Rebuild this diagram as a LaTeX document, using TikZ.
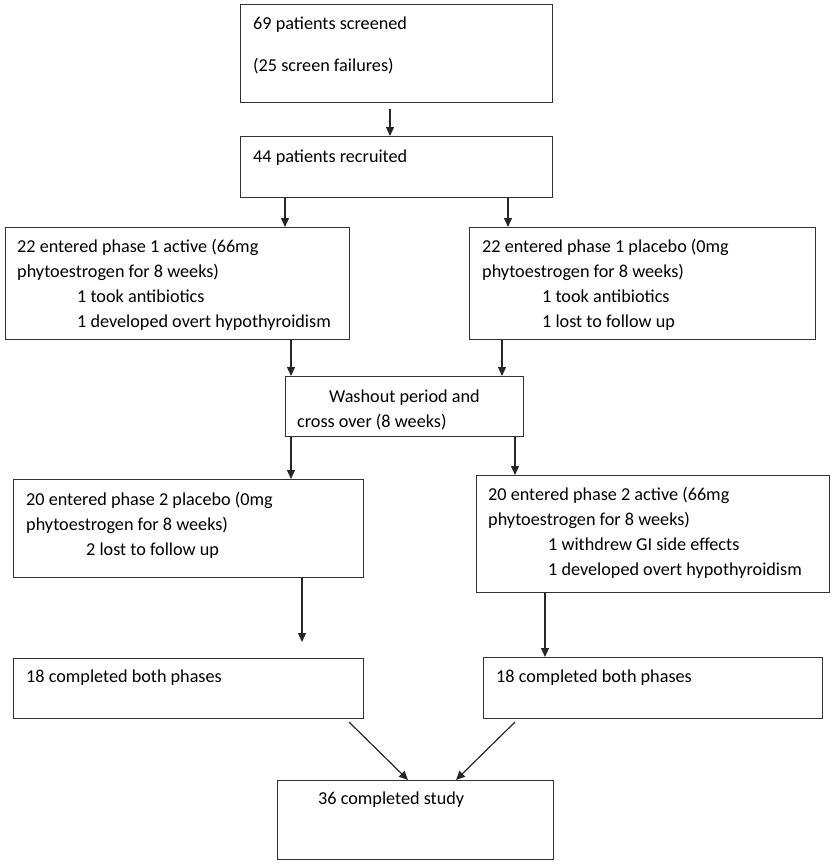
\documentclass[tikz,border=0pt]{standalone}
\usepackage{fontspec}
\setmainfont{Carlito}
\usetikzlibrary{arrows.meta}
\newlength{\du}
\setlength{\du}{1pt}
\newcommand{\ind}{\hspace*{60\du}}

\begin{document}
\begin{tikzpicture}[
  box/.style={draw=black!80, line width=1.2\du, anchor=north west, inner sep=0pt},
  txt/.style={anchor=base west, inner sep=0pt, align=left,
    font=\fontsize{18.2}{25}\selectfont},
  arr/.style={draw=black!85, line width=1.2\du, -{Triangle[length=9pt,width=8pt]}}
]
\pgftransformxscale{1.000000}
\pgftransformyscale{-1.000000}
\useasboundingbox (0\du,0\du) rectangle (835\du,865\du);
% boxes
\node[box, minimum width=312\du, minimum height=98\du] (screen) at (240\du,4\du) {};
\node[box, minimum width=312\du, minimum height=61\du] (recruit) at (240\du,136\du) {};
\node[box, minimum width=344\du, minimum height=112\du] (activeA) at (5\du,227\du) {};
\node[box, minimum width=346\du, minimum height=112\du] (placeboA) at (469\du,227\du) {};
\node[box, minimum width=238\du, minimum height=60\du] (washout) at (285\du,376\du) {};
\node[box, minimum width=350\du, minimum height=98\du] (placeboB) at (13\du,479\du) {};
\node[box, minimum width=353\du, minimum height=117\du] (activeB) at (476\du,475\du) {};
\node[box, minimum width=350\du, minimum height=60\du] (doneL) at (13\du,658\du) {};
\node[box, minimum width=339\du, minimum height=61\du] (doneR) at (483\du,657\du) {};
\node[box, minimum width=276\du, minimum height=79\du] (study) at (277\du,780\du) {};
% texts (anchored at the baseline of their last line)
\node[txt] (screen-t) at (253\du,71\du) {69 patients screened\\[17\du](25 screen failures)};
\node[txt] (recruit-t) at (253\du,162\du) {44 patients recruited};
\node[txt] (activeA-t) at (17\du,327\du) {22 entered phase 1 active (66mg\\phytoestrogen for 8 weeks)\\
  \ind1 took antibiotics\\\ind1 developed overt hypothyroidism};
\node[txt] (placeboA-t) at (482\du,327\du) {22 entered phase 1 placebo (0mg\\phytoestrogen for 8 weeks)\\
  \ind1 took antibiotics\\\ind1 lost to follow up};
\node[txt] (washout-t) at (297\du,427\du) {\hspace*{32\du}Washout period and\\cross over (8 weeks)};
\node[txt] (placeboB-t) at (26\du,555\du) {20 entered phase 2 placebo (0mg\\phytoestrogen for 8 weeks)\\
  \ind2 lost to follow up};
\node[txt] (activeB-t) at (488\du,575\du) {20 entered phase 2 active (66mg\\phytoestrogen for 8 weeks)\\
  \ind1 withdrew GI side effects\\\ind1 developed overt hypothyroidism};
\node[txt] (doneL-t) at (26\du,682\du) {18 completed both phases};
\node[txt] (doneR-t) at (496\du,682\du) {18 completed both phases};
\node[txt] (study-t) at (318\du,804\du) {36 completed study};
% arrow columns
\coordinate (c390) at (390\du,0\du);
\coordinate (c285) at (285\du,0\du);
\coordinate (c508) at (508\du,0\du);
\coordinate (c291) at (291\du,0\du);
\coordinate (c502) at (502\du,0\du);
\coordinate (c515) at (515\du,0\du);
\coordinate (c302) at (302\du,0\du);
\coordinate (c545) at (545\du,0\du);
\coordinate (c408) at (408\du,0\du);
\coordinate (c456) at (456\du,0\du);
% connectors
\draw[arr, shorten <=6\du] (screen.south -| c390) -- (recruit.north -| c390);
\draw[arr] (recruit.south -| c285) -- (activeA.north -| c285);
\draw[arr] (recruit.south -| c508) -- (placeboA.north -| c508);
\draw[arr] (activeA.south -| c291) -- (washout.north -| c291);
\draw[arr] (placeboA.south -| c502) -- (washout.north -| c502);
\draw[arr] (washout.south -| c291) -- (placeboB.north -| c291);
\draw[arr] (washout.south -| c515) -- (activeB.north -| c515);
\draw[arr, shorten >=16\du] (placeboB.south -| c302) -- (doneL.north -| c302);
\draw[arr] (activeB.south -| c545) -- (doneR.north -| c545);
\coordinate (fromL) at (349\du,722\du);
\coordinate (fromR) at (515\du,722\du);
\draw[arr] (fromL) -- (study.north -| c408);
\draw[arr] (fromR) -- (study.north -| c456);
\end{tikzpicture}
\end{document}
